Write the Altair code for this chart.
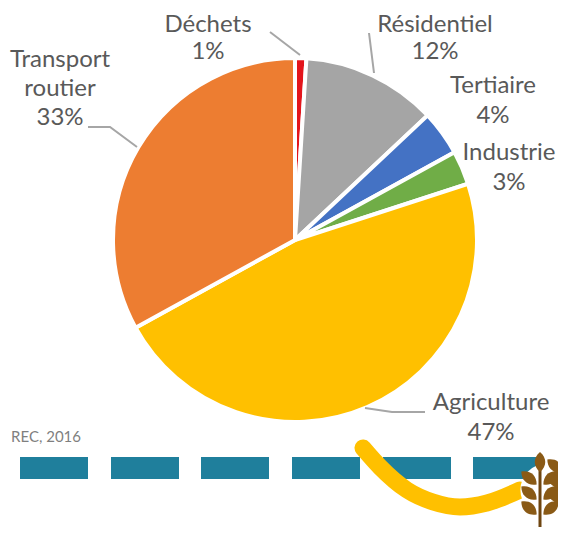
import altair as alt
import pandas as pd

W, H = 550, 519

# Pie
sectors = ["Déchets", "Résidentiel", "Tertiaire", "Industrie", "Agriculture", "Transport routier"]
shares = [1, 12, 4, 3, 47, 33]
colors = ["#E3151C", "#A5A5A5", "#4472C4", "#70AD47", "#FFC000", "#ED7D31"]

# Labels (picture coordinates)
label_text = ["Déchets", "1%", "Résidentiel", "12%", "Tertiaire", "4%", "Industrie", "3%",
              "Transport", "routier", "33%", "Agriculture", "47%"]
label_x = [208, 208, 435, 435, 493, 493, 509, 509, 60, 60, 60, 491, 491]
label_y = [25, 52, 25, 52, 86, 116, 153, 183, 60, 89, 118, 403, 433]

# Leader lines
leader_id = [0, 0, 1, 1, 2, 2, 2, 3, 3, 3]
leader_x = [270, 300, 369, 374, 88, 110, 137, 365, 392, 425]
leader_y = [32, 55, 33, 73, 127, 127, 147, 408, 412, 412]

# Dashes
dash_start = [20, 111, 201, 292, 383, 473]
dash_end = [88, 179, 269, 360, 451, 541]
dash_top = 457
dash_bottom = 479

# Swoosh
swoosh_x = [363, 380, 407, 433, 460, 487, 520]
swoosh_y = [448, 467, 490, 502, 507, 503, 490]

# Wheat ears
leaf_x = [540, 529, 551, 529, 551, 529, 551, 566, 555, 555, 555]
leaf_y = [462, 478, 478, 493, 493, 508, 508, 452, 466, 481, 496]
leaf_angle = [0, -50, 50, -50, 50, -50, 50, 0, -50, -50, -50]
stem_x = [540, 540]
stem_y = [470, 534]

xs = alt.Scale(domain=[8, 8 + W], range=[0, W], nice=False, zero=False)
ys = alt.Scale(domain=[8, 8 + H], range=[0, H], nice=False, zero=False)
X = lambda f: alt.X(f, scale=xs, axis=None)
Y = lambda f: alt.Y(f, scale=ys, axis=None)

FONT = "Lato"
TEXT = "#595959"

pie_df = pd.DataFrame({"sector": sectors, "share": shares, "idx": range(len(shares))})
pie = alt.Chart(pie_df).mark_arc(radius=182, stroke="white", strokeWidth=4).encode(
    theta=alt.Theta("share:Q", stack=True),
    order=alt.Order("idx:Q"),
    color=alt.Color("sector:N", scale=alt.Scale(domain=sectors, range=colors), legend=None),
    x=alt.value(295 - 8),
    y=alt.value(240 - 8),
)

leaders = alt.Chart(pd.DataFrame({"id": leader_id, "x": leader_x, "y": leader_y})).mark_line(
    color="#A6A6A6", strokeWidth=2).encode(x=X("x:Q"), y=Y("y:Q"), detail="id:N")

labels = alt.Chart(pd.DataFrame({"t": label_text, "x": label_x, "y": label_y})).mark_text(
    font=FONT, fontSize=24, color=TEXT, align="center", baseline="middle").encode(
    x=X("x:Q"), y=Y("y:Q"), text="t:N")

source = alt.Chart(pd.DataFrame({"t": ["REC, 2016"], "x": [81], "y": [437]})).mark_text(
    font=FONT, fontSize=15, color="#7F7F7F", align="right", baseline="middle").encode(
    x=X("x:Q"), y=Y("y:Q"), text="t:N")

dashes = alt.Chart(pd.DataFrame({"a": dash_start, "b": dash_end,
                                 "t": [dash_top] * 6, "u": [dash_bottom] * 6})).mark_rect(color="#1F7F9C").encode(
    x=X("a:Q"), x2="b:Q", y=Y("t:Q"), y2="u:Q")

swoosh = alt.Chart(pd.DataFrame({"x": swoosh_x, "y": swoosh_y, "i": range(len(swoosh_x))})).mark_line(
    color="#FFC000", strokeWidth=17, strokeCap="round", interpolate="monotone").encode(
    x=X("x:Q"), y=Y("y:Q"), order="i:Q")

halo = alt.Chart(pd.DataFrame({"x": [547], "y": [490]})).mark_point(
    filled=True, color="white", opacity=1, size=2827).encode(x=X("x:Q"), y=Y("y:Q"))

stem = alt.Chart(pd.DataFrame({"x": stem_x, "y": stem_y})).mark_line(
    color="#6E4510", strokeWidth=3).encode(x=X("x:Q"), y=Y("y:Q"))

LEAF = "M0,-1 C0.7,-0.4 0.7,0.4 0,1 C-0.7,0.4 -0.7,-0.4 0,-1 Z"
leaves = alt.Chart(pd.DataFrame({"x": leaf_x, "y": leaf_y, "a": leaf_angle})).mark_point(
    filled=True, color="#8A5A16", opacity=1, shape=LEAF, size=400).encode(
    x=X("x:Q"), y=Y("y:Q"),
    angle=alt.Angle("a:Q", scale=alt.Scale(domain=[-360, 360], range=[-360, 360])))

chart = alt.layer(pie, leaders, labels, source, dashes, swoosh, halo, stem, leaves).properties(
    width=W, height=H, padding=0, background="white",
    autosize=alt.AutoSizeParams(type="none"),
).configure_view(stroke=None)

chart.save("out.html", embed_options={"renderer": "svg", "actions": False})
